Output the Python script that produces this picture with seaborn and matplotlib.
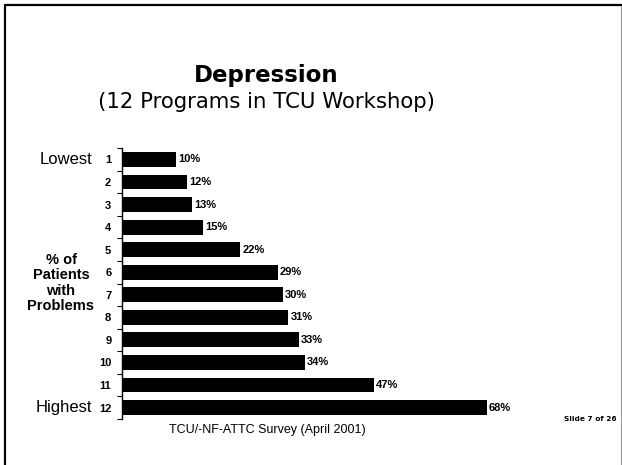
import matplotlib
matplotlib.use("Agg")
import matplotlib.pyplot as plt
from matplotlib.lines import Line2D
from matplotlib.ticker import FixedLocator
import seaborn as sns
import pandas as pd

programs = ["1", "2", "3", "4", "5", "6", "7", "8", "9", "10", "11", "12"]
pct_with_problems = [10, 12, 13, 15, 22, 29, 30, 31, 33, 34, 47, 68]
value_labels = [f"{v}%" for v in pct_with_problems]

title = "Depression"
subtitle = "(12 Programs in TCU Workshop)"
footer = "TCU/-NF-ATTC Survey (April 2001)"
slide_no = "Slide 7 of 26"
y_title = "% of\nPatients\nwith\nProblems"

sns.set_theme(style="white")
plt.rcParams["font.family"] = ["Liberation Sans", "DejaVu Sans"]

W, H = 622, 465
fig = plt.figure(figsize=(W / 100, H / 100), dpi=100)
fig.patch.set_facecolor("white")

def fx(px):
    return px / W

def fy(py):
    return 1 - py / H

ax_left, ax_right = 122.4, 122.4 + 90 * 5.357
ax_top, ax_bot = 148.2, 418.8
ax = fig.add_axes([fx(ax_left), fy(ax_bot), fx(ax_right - ax_left), (ax_bot - ax_top) / H])

df = pd.DataFrame({"program": programs, "pct": pct_with_problems})
sns.barplot(data=df, y="program", x="pct", order=programs, orient="h",
            color="black", width=0.66, saturation=1, ax=ax, edgecolor="black", linewidth=0)

ax.set_xlim(0, 90)
ax.set_ylim(len(programs) - 0.5, -0.5)
ax.set_xlabel("")
ax.set_ylabel("")
ax.set_xticks([])
for s in ["top", "right", "bottom"]:
    ax.spines[s].set_visible(False)
ax.spines["left"].set_color("black")
ax.spines["left"].set_linewidth(1.0)

ax.yaxis.set_minor_locator(FixedLocator([i - 0.5 for i in range(len(programs) + 1)]))
ax.tick_params(axis="y", which="major", length=0, pad=8, labelsize=8)
ax.tick_params(axis="y", which="minor", length=3.5, width=0.8, direction="out", color="black", left=True)
for lbl in ax.get_yticklabels():
    lbl.set_fontweight("bold")
    lbl.set_color("black")

ax.bar_label(ax.containers[0], labels=value_labels, padding=1.5, fontsize=8,
             fontweight="bold", color="black")

# left-side annotations
fig.text(fx(92), fy(159.5), "Lowest", ha="right", va="center", fontsize=12, color="black")
fig.text(fx(92), fy(407.5), "Highest", ha="right", va="center", fontsize=12, color="black")
fig.text(fx(61), fy(283), y_title, ha="center", va="center", fontsize=10.5,
         fontweight="bold", color="black", linespacing=1.1)

# titles
fig.text(fx(266), fy(82), title, ha="center", va="baseline", fontsize=16.5,
         fontweight="bold", family="DejaVu Sans", color="black")
fig.text(fx(266), fy(108), subtitle, ha="center", va="baseline", fontsize=15.3,
         family="DejaVu Sans", color="black")

# footer
fig.text(fx(267.5), fy(430), footer, ha="center", va="center", fontsize=9, color="black")
fig.text(fx(617), fy(419), slide_no, ha="right", va="center", fontsize=5.3,
         fontweight="bold", family="DejaVu Sans", color="black")

# slide frame
fig.add_artist(Line2D([fx(5), fx(622)], [fy(5), fy(5)], color="black", linewidth=1.6))
fig.add_artist(Line2D([fx(5), fx(5)], [fy(5), fy(465)], color="black", linewidth=1.6))
fig.add_artist(Line2D([fx(621), fx(621)], [fy(6), fy(465)], color="#999999", linewidth=0.8))

fig.savefig("out.png", dpi=100, facecolor="white")
